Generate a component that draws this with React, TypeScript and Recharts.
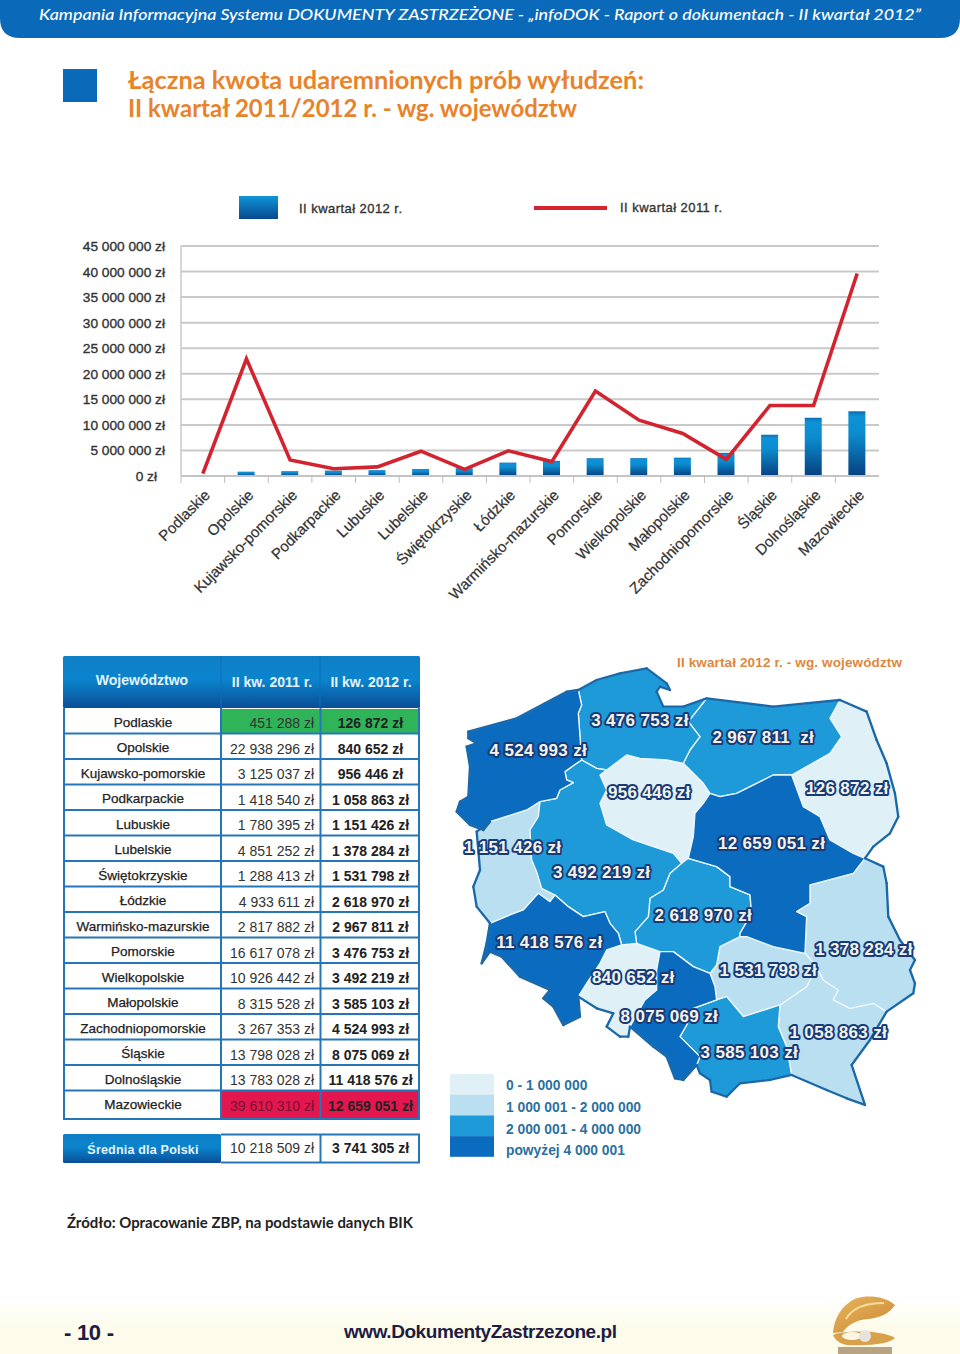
import { Bar, CartesianGrid, ComposedChart, Line, XAxis, YAxis } from 'recharts';

const voivodeships = [
  'Podlaskie', 'Opolskie', 'Kujawsko-pomorskie', 'Podkarpackie', 'Lubuskie', 'Lubelskie', 'Świętokrzyskie', 'Łódzkie',
  'Warmińsko-mazurskie', 'Pomorskie', 'Wielkopolskie', 'Małopolskie', 'Zachodniopomorskie', 'Śląskie', 'Dolnośląskie', 'Mazowieckie',
];
const q2_2011 = [451288, 22938296, 3125037, 1418540, 1780395, 4851252, 1288413, 4933611, 2817882, 16617078, 10926442, 8315528, 3267353, 13798028, 13783028, 39610310];
const q2_2012 = [126872, 840652, 956446, 1058863, 1151426, 1378284, 1531798, 2618970, 2967811, 3476753, 3492219, 3585103, 4524993, 8075069, 11418576, 12659051];
const yTicks = [0, 5000000, 10000000, 15000000, 20000000, 25000000, 30000000, 35000000, 40000000, 45000000];
const avg2011 = 10218509;
const avg2012 = 3741305;

const legendBuckets = ['0 - 1 000 000', '1 000 001 - 2 000 000', '2 000 001 - 4 000 000', 'powyżej 4 000 001'];
const bucketColors = ['#dff0f7', '#b9dff0', '#1f9ad9', '#0b6cbf'];

// hand traced voivodeship outlines, in 3x px relative to the map corner
const mapShapes: Record<string, string> = {
  Zachodniopomorskie: '85,245 230,205 380,125 415,120 425,165 415,190 420,260 425,330 410,340 375,365 380,390 400,398 360,420 350,445 300,455 260,480 150,515 130,540 90,525 50,485 60,455 85,440 90,350 80,290 110,280 85,265',
  Pomorskie: '415,120 470,90 540,70 620,55 680,100 690,120 660,110 650,125 670,170 730,170 800,145 745,215 780,260 750,300 730,340 680,330 600,325 560,315 500,360 470,355 425,330 420,260 415,190 425,165',
  'Warmińsko-mazurskie': '800,145 1000,170 1200,150 1170,205 1205,260 1170,310 1100,350 1055,375 1000,375 890,430 840,440 810,430 790,400 730,340 750,300 780,260 745,215',
  Podlaskie: '1200,150 1280,185 1310,270 1340,340 1365,430 1375,500 1350,550 1300,590 1275,625 1240,610 1170,570 1140,500 1090,470 1055,375 1100,350 1170,310 1205,260 1170,205',
  'Kujawsko-pomorskie': '560,315 600,325 680,330 730,340 790,400 810,430 790,460 765,490 760,560 745,625 725,640 700,610 640,590 580,570 500,525 480,460 500,420 480,375 500,360',
  Mazowieckie: '1055,375 1090,470 1140,500 1170,570 1240,610 1275,625 1240,670 1110,705 1110,760 1070,785 1100,800 1095,910 1000,890 920,860 900,860 900,850 935,790 930,735 870,710 870,680 830,650 745,625 760,560 765,490 790,460 810,430 840,440 890,430 1000,375',
  Wielkopolskie: '425,330 470,355 500,360 480,375 500,420 480,460 500,525 580,570 640,590 700,610 725,640 690,670 670,720 630,745 625,800 585,845 590,880 545,885 535,850 510,820 495,785 430,800 385,770 345,735 305,715 290,665 275,630 270,540 295,500 300,455 350,445 360,420 400,398 380,390 375,365 410,340',
  Lubuskie: '300,455 295,500 270,540 275,630 290,665 305,715 345,735 330,755 295,730 250,780 210,795 150,820 110,770 100,710 120,660 110,545 150,515 260,480',
  Dolnośląskie: '150,820 210,795 250,780 295,730 330,755 345,735 385,770 430,800 495,785 510,820 535,850 545,885 500,900 480,940 440,1000 415,1040 420,1100 370,1125 340,1070 310,1045 330,1020 240,980 185,920 150,905 125,940 140,880',
  Opolskie: '545,885 590,880 660,905 650,960 650,1020 615,1050 570,1130 565,1160 540,1160 500,1130 520,1090 470,1075 415,1040 440,1000 480,940 500,900',
  Śląskie: '660,905 700,905 760,950 810,970 825,1010 830,1050 760,1075 740,1125 720,1160 780,1220 770,1245 730,1290 705,1285 680,1220 640,1190 570,1130 615,1050 650,1020 650,960',
  Łódzkie: '745,625 830,650 870,680 870,710 930,735 935,790 900,850 900,860 840,890 830,945 810,970 760,950 700,905 660,905 590,880 585,845 625,800 630,745 670,720 690,670 725,640',
  Świętokrzyskie: '840,890 900,860 920,860 1000,890 1095,910 1130,950 1100,1010 1020,1065 910,1100 860,1040 830,1050 825,1010 810,970 830,945',
  Lubelskie: '1110,705 1240,670 1275,625 1330,650 1340,700 1345,800 1380,870 1425,930 1410,960 1425,1000 1420,1030 1340,1085 1300,1060 1230,1075 1180,1050 1195,1020 1150,990 1130,950 1095,910 1100,800 1070,785 1110,760',
  Podkarpackie: '1130,950 1150,990 1195,1020 1180,1050 1230,1075 1300,1060 1340,1085 1290,1170 1235,1245 1275,1365 1220,1345 1160,1320 1055,1275 1040,1190 1015,1130 1020,1065 1100,1010',
  Małopolskie: '830,1050 860,1040 910,1100 1020,1065 1015,1130 1040,1190 1055,1275 990,1290 900,1300 860,1340 815,1325 810,1290 780,1270 770,1245 780,1220 720,1160 740,1125 760,1075',
};
const mapLabelAt: Record<string, [number, number]> = {
  Zachodniopomorskie: [295, 300], Pomorskie: [600, 210], 'Warmińsko-mazurskie': [970, 262], Podlaskie: [1222, 413],
  'Kujawsko-pomorskie': [628, 427], Mazowieckie: [995, 580], Wielkopolskie: [485, 665], Lubuskie: [218, 592],
  Łódzkie: [790, 795], Dolnośląskie: [328, 877], Opolskie: [580, 982], Śląskie: [688, 1097],
  Świętokrzyskie: [985, 960], Lubelskie: [1272, 898], Podkarpackie: [1195, 1145], Małopolskie: [928, 1207],
};

const chartData = voivodeships.map((name, i) => ({ name, q2011: q2_2011[i], q2012: q2_2012[i] }));

const ARIAL = '"Liberation Sans", Arial, sans-serif';
const GOTHIC = 'Lato, "Open Sans", sans-serif';

function fmt(value: number) {
  return `${String(value).replace(/\B(?=(\d{3})+$)/g, '\u00a0')}\u00a0zł`;
}

function bucketColor(value: number) {
  if (value <= 1000000) return bucketColors[0];
  if (value <= 2000000) return bucketColors[1];
  if (value <= 4000000) return bucketColors[2];
  return bucketColors[3];
}

// edges used by one region only are the country border
function outerEdges() {
  const seen = new Map<string, number>();
  const key = (a: string, b: string) => (a < b ? `${a} ${b}` : `${b} ${a}`);
  Object.values(mapShapes).forEach((shape) => {
    const pts = shape.split(' ');
    pts.forEach((p, i) => {
      const k = key(p, pts[(i + 1) % pts.length]);
      seen.set(k, (seen.get(k) ?? 0) + 1);
    });
  });
  return [...seen.entries()].filter(([, n]) => n === 1).map(([k]) => k);
}

function YTick({ x, y, payload }: any) {
  return (
    <text x={x - (payload.value === 0 ? 16 : 8)} y={y + 5} textAnchor="end" fontFamily={ARIAL} fontSize={13.7} fill="#333" stroke="#333" strokeWidth={0.35}>
      {fmt(payload.value)}
    </text>
  );
}

function XTick({ x, y, payload }: any) {
  const ax = x + 8;
  const ay = y + 12;
  return (
    <g>
      <line x1={x - 21.8} x2={x - 21.8} y1={y - 8} y2={y - 1} stroke="#bdbdbd" />
      <text x={ax} y={ay} transform={`rotate(-45 ${ax} ${ay})`} textAnchor="end" fontFamily={ARIAL} fontSize={15} fill="#333" stroke="#333" strokeWidth={0.25}>
        {payload.value}
      </text>
    </g>
  );
}

function TrendChart() {
  return (
    <div style={{ position: 'absolute', left: 0, top: 230, width: 960, height: 400 }}>
      <ComposedChart width={960} height={400} data={chartData} margin={{ top: 16, right: 81, left: 81, bottom: 24 }} barCategoryGap={0}>
        <defs>
          <linearGradient id="barFill" x1="0" y1="0" x2="0" y2="1">
            <stop offset="0" stopColor="#0c6db6" />
            <stop offset="0.08" stopColor="#0d93d6" />
            <stop offset="0.35" stopColor="#0c8ccf" />
            <stop offset="1" stopColor="#07407f" />
          </linearGradient>
        </defs>
        <CartesianGrid vertical={false} stroke="#c9c9c9" strokeWidth={2} />
        <XAxis dataKey="name" interval={0} height={130} tick={<XTick />} tickLine={false} axisLine={{ stroke: '#c4c4c4', strokeWidth: 2 }} />
        <YAxis width={100} domain={[0, 45000000]} ticks={yTicks} tick={<YTick />} tickLine={false} axisLine={{ stroke: '#c9c9c9', strokeWidth: 1.5 }} />
        <Bar dataKey="q2012" barSize={17} fill="url(#barFill)" isAnimationActive={false} />
        <Line dataKey="q2011" type="linear" stroke="#d2232f" strokeWidth={3.6} strokeLinejoin="miter" dot={false} isAnimationActive={false} />
      </ComposedChart>
    </div>
  );
}

const ROW_TOP = 708;
const ROW_H = 25.5;
const TABLE_BOTTOM = 1119;
const LINE_BLUE = '#2476b8';

function DataTable() {
  const lastTop = ROW_TOP + 15 * ROW_H;
  return (
    <g fontFamily={ARIAL}>
      <rect x={63} y={656} width={357} height={52} rx={1.5} fill="url(#headFill)" />
      <line x1={221} x2={221} y1={656} y2={708} stroke="#0c6fb8" />
      <line x1={320} x2={320} y1={656} y2={708} stroke="#0c6fb8" />
      <text x={142} y={685} textAnchor="middle" fontSize={14} fontWeight={700} fill="#e4f3fb">Województwo</text>
      <text x={272} y={687} textAnchor="middle" fontSize={14} fontWeight={700} fill="#e4f3fb">II kw. 2011 r.</text>
      <text x={371} y={687} textAnchor="middle" fontSize={14} fontWeight={700} fill="#e4f3fb">II kw. 2012 r.</text>
      <rect x={222} y={ROW_TOP + 1} width={197} height={ROW_H - 1} fill="#30b459" />
      <rect x={222} y={lastTop} width={197} height={TABLE_BOTTOM - lastTop} fill="#e2174f" />
      {voivodeships.map((name, i) => {
        const top = ROW_TOP + i * ROW_H;
        const lineY = i === 15 ? TABLE_BOTTOM : top + ROW_H;
        return (
          <g key={name}>
            <line x1={63} x2={420} y1={lineY} y2={lineY} stroke={LINE_BLUE} strokeWidth={2} />
            <text x={143} y={top + 18.5} textAnchor="middle" fontSize={13.5} fill="#222" stroke="#222" strokeWidth={0.25}>{name}</text>
            <text x={314} y={top + 20} textAnchor="end" fontSize={14} fill={i === 15 ? '#7a1030' : '#333'}>{fmt(q2_2011[i])}</text>
            <text x={370.5} y={top + 20} textAnchor="middle" fontSize={14} fontWeight={700} fill="#222">{fmt(q2_2012[i])}</text>
          </g>
        );
      })}
      <line x1={64} x2={64} y1={708} y2={TABLE_BOTTOM} stroke={LINE_BLUE} strokeWidth={2} />
      <line x1={221} x2={221} y1={708} y2={TABLE_BOTTOM} stroke={LINE_BLUE} strokeWidth={2} />
      <line x1={320.5} x2={320.5} y1={708} y2={TABLE_BOTTOM} stroke={LINE_BLUE} strokeWidth={2} />
      <line x1={419} x2={419} y1={708} y2={TABLE_BOTTOM} stroke={LINE_BLUE} strokeWidth={2} />

      <rect x={63} y={1134} width={158} height={29} rx={1.5} fill="url(#headFill)" />
      <text x={143} y={1154} textAnchor="middle" fontSize={12.5} fontWeight={700} fill="#e4f3fb" letterSpacing={0.2}>Średnia dla Polski</text>
      <path d="M221 1134.5H419V1162.5H221M320.5 1134.5V1162.5" fill="none" stroke={LINE_BLUE} strokeWidth={2} />
      <text x={314} y={1153} textAnchor="end" fontSize={14} fill="#333">{fmt(avg2011)}</text>
      <text x={370.5} y={1153} textAnchor="middle" fontSize={14} fontWeight={700} fill="#222">{fmt(avg2012)}</text>
    </g>
  );
}

function PolandMap() {
  return (
    <g>
      <text x={677} y={667} fontFamily={ARIAL} fontSize={13.5} fontWeight={700} fill="#e0873a" textLength={225}>II kwartał 2012 r. - wg. województw</text>
      <g transform="translate(440 650) scale(0.3333)">
        {voivodeships.map((name, i) => (
          <polygon key={name} points={mapShapes[name]} fill={bucketColor(q2_2012[i])} stroke="#eef7fb" strokeWidth={4} strokeLinejoin="round" />
        ))}
        {outerEdges().map((edge) => {
          const [a, b] = edge.split(' ').map((p) => p.split(',').map(Number));
          return <line key={edge} x1={a[0]} y1={a[1]} x2={b[0]} y2={b[1]} stroke="#1a68a8" strokeWidth={7} strokeLinecap="round" />;
        })}
        {voivodeships.map((name, i) => (
          <text
            key={name}
            x={mapLabelAt[name][0]}
            y={mapLabelAt[name][1] + 18}
            textAnchor="middle"
            fontFamily={ARIAL}
            fontSize={51}
            fontWeight={700}
            letterSpacing={1}
            fill="#f3f3ea"
            stroke="#173b78"
            strokeWidth={12}
            strokeLinejoin="round"
            style={{ paintOrder: 'stroke' }}
          >
            {name === 'Warmińsko-mazurskie' ? fmt(q2_2012[i]).replace('\u00a0zł', '\u00a0\u00a0zł') : fmt(q2_2012[i])}
          </text>
        ))}
      </g>
      {legendBuckets.map((label, i) => (
        <g key={label}>
          <rect x={450} y={1074 + i * 20.7} width={44} height={20.7} fill={bucketColors[i]} />
          <text x={506} y={1090 + i * 21.8} fontFamily={ARIAL} fontSize={13.8} fontWeight={700} fill="#2a709f">{label}</text>
        </g>
      ))}
    </g>
  );
}

function Oyster() {
  return (
    <g>
      <rect x={838} y={1347} width={54} height={7} fill="#8a6a3c" opacity={0.6} />
      <path d="M833 1333C834 1318 842 1304 857 1298C868 1295 885 1296 895 1305C890 1313 880 1318 868 1319C857 1320 848 1324 843 1332Z" fill="url(#shellFill)" />
      <path d="M846 1319C852 1308 866 1303 884 1303" fill="none" stroke="#f7dc9c" strokeWidth={2} />
      <path d="M833 1335C840 1331 880 1329 895 1338C890 1343 875 1346 847 1345C840 1344 835 1340 833 1335Z" fill="#d9a14a" />
      <ellipse cx={852} cy={1336} rx={10} ry={4} fill="#fbf6e6" />
      <circle cx={865} cy={1336} r={6} fill="#e6e4dc" />
    </g>
  );
}

function Page() {
  return (
    <svg width={960} height={1354} style={{ position: 'absolute', left: 0, top: 0 }}>
      <defs>
        <linearGradient id="headFill" x1="0" y1="0" x2="0" y2="1">
          <stop offset="0" stopColor="#0f7fc6" />
          <stop offset="0.45" stopColor="#0b84cd" />
          <stop offset="1" stopColor="#0a4e97" />
        </linearGradient>
        <linearGradient id="swatchFill" x1="0" y1="0" x2="0" y2="1">
          <stop offset="0" stopColor="#0f95d8" />
          <stop offset="1" stopColor="#07488c" />
        </linearGradient>
        <linearGradient id="footFill" x1="0" y1="0" x2="0" y2="1">
          <stop offset="0" stopColor="#ffffff" />
          <stop offset="0.5" stopColor="#fdfbea" />
          <stop offset="1" stopColor="#fdfbea" />
        </linearGradient>
        <linearGradient id="shellFill" x1="0" y1="0" x2="1" y2="1">
          <stop offset="0" stopColor="#e9b45e" />
          <stop offset="1" stopColor="#c98a33" />
        </linearGradient>
      </defs>

      <path d="M0 0H960V18Q960 38 940 38H20Q0 38 0 18Z" fill="#0a69b8" />
      <text x={39} y={20} fontFamily={GOTHIC} fontSize={16} fontStyle="italic" fontWeight={500} fill="#fff" textLength={882} lengthAdjust="spacingAndGlyphs">
        Kampania Informacyjna Systemu DOKUMENTY ZASTRZEŻONE - „infoDOK - Raport o dokumentach - II kwartał 2012”
      </text>
      <rect x={63} y={69} width={34} height={33} fill="#0a69b8" />
      <text x={128} y={89} fontFamily={GOTHIC} fontSize={25} fontWeight={700} fill="#e8832a" textLength={516} lengthAdjust="spacingAndGlyphs">Łączna kwota udaremnionych prób wyłudzeń:</text>
      <text x={128} y={117} fontFamily={GOTHIC} fontSize={25} fontWeight={700} fill="#e8832a" textLength={449} lengthAdjust="spacingAndGlyphs">II kwartał 2011/2012 r. - wg. województw</text>

      <rect x={239} y={196} width={39} height={23} fill="url(#swatchFill)" />
      <text x={299} y={213} fontFamily={ARIAL} fontSize={13} fill="#333" stroke="#333" strokeWidth={0.35} textLength={103}>II kwartał 2012 r.</text>
      <line x1={534} x2={607} y1={208} y2={208} stroke="#d2232f" strokeWidth={4} />
      <text x={620} y={212} fontFamily={ARIAL} fontSize={13} fill="#333" stroke="#333" strokeWidth={0.35} textLength={102}>II kwartał 2011 r.</text>

      <DataTable />
      <PolandMap />

      <text x={67} y={1228} fontFamily={GOTHIC} fontSize={14.5} fontWeight={700} fill="#222" textLength={346} lengthAdjust="spacingAndGlyphs">Źródło: Opracowanie ZBP, na podstawie danych BIK</text>
      <rect x={0} y={1300} width={960} height={54} fill="url(#footFill)" />
      <text x={64} y={1340} fontFamily={ARIAL} fontSize={22} fontWeight={700} fill="#1c1c44" textLength={50}>- 10 -</text>
      <text x={344} y={1338} fontFamily={ARIAL} fontSize={19} fontWeight={700} fill="#1c1c44" textLength={273}>www.DokumentyZastrzezone.pl</text>
      <Oyster />
    </svg>
  );
}

export default function App() {
  return (
    <div style={{ position: 'absolute', left: 0, top: 0, width: 960, height: 1354, background: '#fff', overflow: 'hidden' }}>
      <Page />
      <TrendChart />
    </div>
  );
}
